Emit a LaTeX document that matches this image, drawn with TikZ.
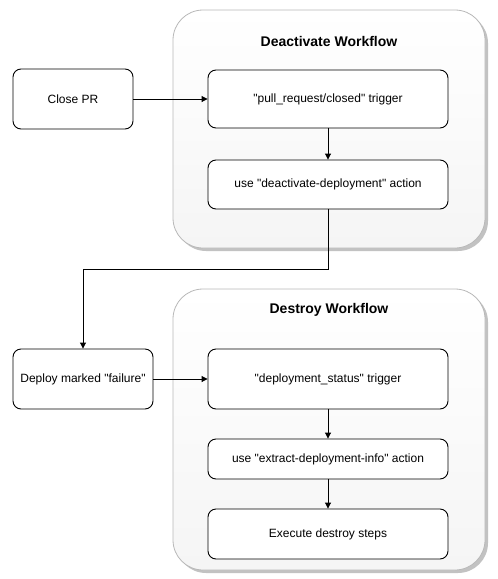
\documentclass[tikz,border=0pt]{standalone}
\usepackage{fontspec}
\setmainfont{Liberation Sans}
\usetikzlibrary{arrows.meta}
\definecolor{contfill}{HTML}{F5F5F5}
\definecolor{contline}{HTML}{B8B8B8}
\definecolor{shadowc}{HTML}{9A9A9A}
\newcommand{\dq}{\textquotedbl}
\tikzset{
  stepbox/.style={draw=black, fill=white, rounded corners=8pt, line width=0.9pt, font=\fontsize{12}{14}\selectfont},
  container/.style={draw=contline, top color=white, bottom color=contfill, rounded corners=30pt, line width=0.8pt},
  cshadow/.style={fill=shadowc, rounded corners=30pt, opacity=0.6},
  flow/.style={draw=black, line width=0.9pt, -{Triangle[length=6pt,width=6pt]}},
  title/.style={font=\bfseries\fontsize{14}{16}\selectfont}
}
\begin{document}
\begin{tikzpicture}[x=1pt,y=-1pt]
\useasboundingbox (0,0) rectangle (498,579);
% containers
\fill[cshadow] (176,13) rectangle (488,251);
\draw[container] (173,10) rectangle (485,248);
\fill[cshadow] (176,292) rectangle (488,573);
\draw[container] (173,289) rectangle (485,570);
\node[title] (t1) at (329,41) {Deactivate Workflow};
\node[title] (t2) at (329,310) {Destroy Workflow};
% boxes
\node[stepbox, minimum width=120pt, minimum height=60pt] (close) at (73,99) {Close PR};
\node[stepbox, minimum width=240pt, minimum height=58pt] (trig1) at (328,99) {\dq pull\_request/closed\dq{} trigger};
\node[stepbox, minimum width=240pt, minimum height=49pt] (act1) at (328,184.5) {use \dq deactivate-deployment\dq{} action};
\node[stepbox, minimum width=140pt, minimum height=60pt] (deploy) at (83,379) {Deploy marked \dq failure\dq};
\node[stepbox, minimum width=240pt, minimum height=60pt] (trig2) at (328,379) {\dq deployment\_status\dq{} trigger};
\node[stepbox, minimum width=240pt, minimum height=40pt] (act2) at (328,459) {use \dq extract-deployment-info\dq{} action};
\node[stepbox, minimum width=240pt, minimum height=50pt] (exec) at (328,534) {Execute destroy steps};
\coordinate (bend) at (328,269);
% connectors
\draw[flow] (close) -- (trig1);
\draw[flow] (trig1) -- (act1);
\draw[flow] (act1.south) -- (bend) -| (deploy.north);
\draw[flow] (deploy) -- (trig2);
\draw[flow] (trig2) -- (act2);
\draw[flow] (act2) -- (exec);
\end{tikzpicture}
\end{document}
